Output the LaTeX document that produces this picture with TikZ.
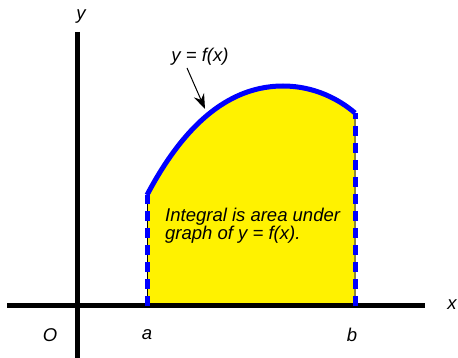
\documentclass[tikz,border=0pt]{standalone}
\usepackage{fontspec}
\setmainfont{Liberation Sans}
\usetikzlibrary{arrows.meta}
\definecolor{edgeolive}{RGB}{140,135,60}
\begin{document}
\begin{tikzpicture}[x=1pt,y=-1pt,
  lbl/.style={font=\fontsize{18.5}{18}\selectfont\itshape, inner sep=0pt},
  axis/.style={line width=5pt, black},
  curve/.style={line width=5pt, blue, line join=round},
  dashv/.style={line width=5pt, blue, dash pattern=on 10pt off 7pt}]
\useasboundingbox (0,0) rectangle (458,358);
\coordinate (s) at (147,195);
\coordinate (pk) at (283,86);
\coordinate (e) at (355,113);
% area
\fill[yellow] (147,305) -- (s) .. controls (175,142) and (218,86) .. (pk)
  .. controls (315,86) and (340,100) .. (e) -- (355,305) -- cycle;
\draw[line width=1pt, black] (147,305) -- (s);
\draw[line width=1.2pt, edgeolive] (355,305) -- (e);
% axes
\draw[axis] (7,305) -- (425,305);
\draw[axis] (77,32) -- (77,358);
% curve
\draw[curve] (s) .. controls (175,142) and (218,86) .. (pk)
  .. controls (315,86) and (340,100) .. (e);
\draw[dashv] (147,306) -- (s);
\draw[dashv] (355,306) -- (e);
% labels
\node[lbl] (ly) at (81,17) {y};
\node[lbl] (lx) at (452,305) {x};
\node[lbl] (lo) at (50,335) {O};
\node[lbl] (la) at (147,335) {a};
\node[lbl] (lb) at (352,335) {b};
\node[lbl] (lf) at (200,57) {y = f(x)};
\coordinate (cp) at (205,109);
\draw[-{Stealth[length=15pt,width=11pt,inset=5pt]}, line width=1pt] (187,68) -- (cp);
\node[lbl, anchor=base west] (t1) at (165,222) {Integral is area under};
\node[lbl, anchor=base west] (t2) at (165,240) {graph of y = f(x).};
\end{tikzpicture}
\end{document}
